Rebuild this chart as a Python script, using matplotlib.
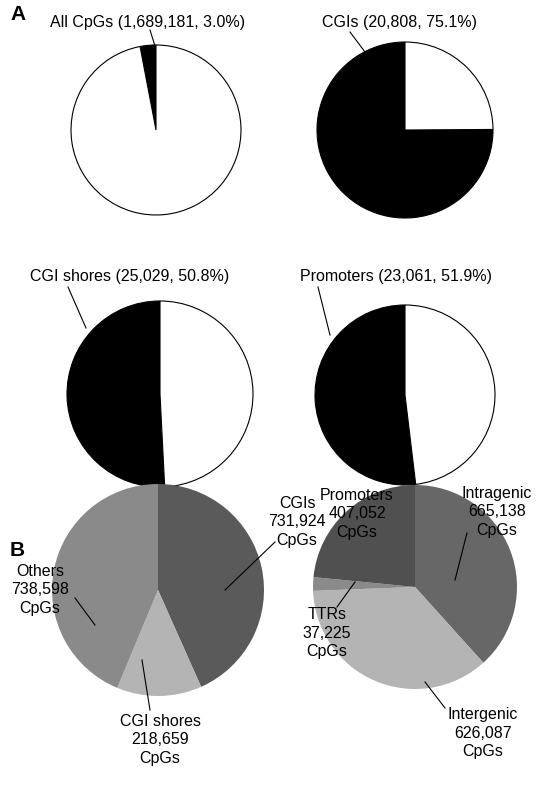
import matplotlib
matplotlib.use('Agg')
import matplotlib.pyplot as plt

plt.rcParams['font.family'] = ['Liberation Sans', 'DejaVu Sans']

# ── Data ─────────────────────────────────────────────
a_titles = ['All CpGs (1,689,181, 3.0%)', 'CGIs (20,808, 75.1%)',
            'CGI shores (25,029, 50.8%)', 'Promoters (23,061, 51.9%)']
a_pct = [3.0, 75.1, 50.8, 51.9]

b1_labels = ['CGIs\n731,924\nCpGs', 'CGI shores\n218,659\nCpGs', 'Others\n738,598\nCpGs']
b1_counts = [731924, 218659, 738598]
b1_colors = ['#5a5a5a', '#b4b4b4', '#8a8a8a']

b2_labels = ['Intragenic\n665,138\nCpGs', 'Intergenic\n626,087\nCpGs',
             'TTRs\n37,225\nCpGs', 'Promoters\n407,052\nCpGs']
b2_counts = [665138, 626087, 37225, 407052]
b2_colors = ['#676767', '#b4b4b4', '#8a8a8a', '#505050']

W, H = 550, 800
fig = plt.figure(figsize=(5.5, 8), dpi=100)


def pie_ax(cx, cy, r):
    ax = fig.add_axes([(cx - r) / W, 1 - (cy + r) / H, 2 * r / W, 2 * r / H])
    return ax


def fix(ax):
    ax.set_xlim(-1, 1)
    ax.set_ylim(-1, 1)
    ax.set_aspect('equal')
    ax.axis('off')


# Panel A
a_geom = [(156, 130, 85), (405, 130, 88), (160, 394, 93), (405, 395, 90)]
for (cx, cy, r), p in zip(a_geom, a_pct):
    ax = pie_ax(cx, cy, r)
    ax.pie([p, 100 - p], colors=['black', 'white'], startangle=90, counterclock=True,
           wedgeprops=dict(edgecolor='black', linewidth=0.8))
    fix(ax)

# Panel B
ax = pie_ax(158, 590, 106)
ax.pie(b1_counts, colors=b1_colors, startangle=90, counterclock=False)
fix(ax)
ax = pie_ax(415, 587, 102)
ax.pie(b2_counts, colors=b2_colors, startangle=90, counterclock=False)
fix(ax)

# overlay for text and leader lines
ov = fig.add_axes([0, 0, 1, 1], zorder=10)
ov.set_xlim(0, W)
ov.set_ylim(H, 0)
ov.axis('off')

fs = 11.5
ov.text(10, 14, 'A', fontsize=15, fontweight='bold', va='center')
ov.text(10, 550, 'B', fontsize=15, fontweight='bold', va='center')

ov.text(50, 22, a_titles[0], fontsize=fs, va='center')
ov.plot([150, 155], [30, 46], color='black', lw=0.8)
ov.text(322, 22, a_titles[1], fontsize=fs, va='center')
ov.plot([350, 365], [32, 52], color='black', lw=0.8)
ov.text(30, 277, a_titles[2], fontsize=fs, va='center')
ov.plot([68, 86], [287, 328], color='black', lw=0.8)
ov.text(300, 277, a_titles[3], fontsize=fs, va='center')
ov.plot([318, 330], [287, 335], color='black', lw=0.8)

lead = dict(color='black', lw=0.8)
ls = 1.3
ov.text(40, 590, b1_labels[2], fontsize=fs, ha='center', va='center', linespacing=ls)
ov.plot([75, 95], [598, 625], **lead)
ov.text(297, 522, b1_labels[0], fontsize=fs, ha='center', va='center', linespacing=ls)
ov.plot([275, 225], [542, 590], **lead)
ov.text(160, 740, b1_labels[1], fontsize=fs, ha='center', va='center', linespacing=ls)
ov.plot([150, 142], [710, 660], **lead)

ov.text(357, 514, b2_labels[3], fontsize=fs, ha='center', va='center', linespacing=ls)
ov.text(497, 512, b2_labels[0], fontsize=fs, ha='center', va='center', linespacing=ls)
ov.plot([467, 455], [533, 580], **lead)
ov.text(327, 633, b2_labels[2], fontsize=fs, ha='center', va='center', linespacing=ls)
ov.plot([337, 355], [607, 582], **lead)
ov.text(483, 733, b2_labels[1], fontsize=fs, ha='center', va='center', linespacing=ls)
ov.plot([445, 425], [708, 682], **lead)

fig.savefig('out.png', dpi=100)
